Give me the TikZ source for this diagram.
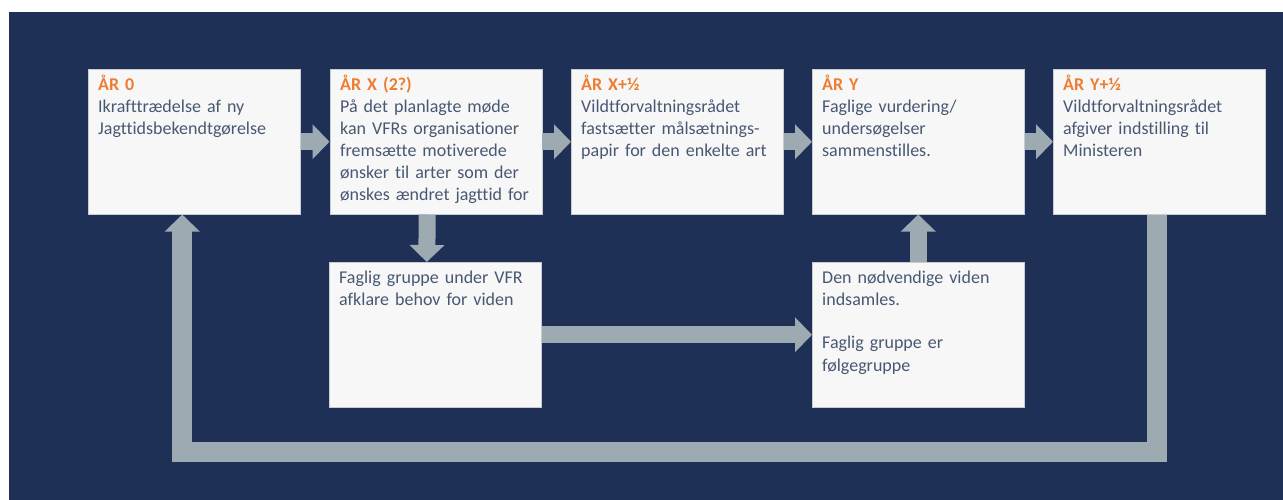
\documentclass[tikz,border=0pt]{standalone}
\usepackage{fontspec}
\setmainfont[Ligatures=NoCommon]{Carlito}
\usetikzlibrary{arrows.meta}
\definecolor{navy}{RGB}{31,48,87}
\definecolor{boxfill}{RGB}{247,247,247}
\definecolor{boxline}{RGB}{200,204,210}
\definecolor{arrowgray}{RGB}{157,170,177}
\definecolor{bodytext}{RGB}{72,88,115}
\definecolor{titleorange}{RGB}{237,125,49}
\newcommand{\ttl}[1]{{\color{titleorange}\bfseries #1}}
\tikzset{
  stepbox/.style={draw=boxline, line width=0.5pt, fill=boxfill, inner sep=0pt,
    minimum width=212pt, minimum height=145pt, anchor=north west},
  txt/.style={anchor=base west, inner sep=0pt, text width=205pt, align=left,
    text=bodytext, font=\fontsize{18}{22}\selectfont},
  barrow/.style={draw=arrowgray, line width=17pt,
    -{Triangle[width=34pt,length=17pt]}},
  fbarrow/.style={draw=arrowgray, line width=20pt, line join=miter,
    -{Triangle[width=34pt,length=17pt]}}
}
\begin{document}
\begin{tikzpicture}[x=1pt,y=-1pt]
\useasboundingbox (0,0) rectangle (1283,500);
\fill[navy] (9,12) rectangle (1283,500);
% top row
\node[stepbox] (A) at (88,69) {};
\node[stepbox] (B) at (329.5,69) {};
\node[stepbox] (C) at (571,69) {};
\node[stepbox] (D) at (812,69) {};
\node[stepbox] (E) at (1053,69) {};
% bottom row
\node[stepbox] (F) at (329,262) {};
\node[stepbox] (G) at (812,262) {};
% texts
\node[txt] (At) at (98,91) {\ttl{ÅR 0}\\Ikrafttrædelse af ny\\Jagttidsbekendtgørelse};
\node[txt] (Bt) at (340,91) {\ttl{ÅR X (2?)}\\På det planlagte møde\\kan VFRs organisationer\\fremsætte motiverede\\ønsker til arter som der\\ønskes ændret jagttid for};
\node[txt] (Ct) at (581,91) {\ttl{ÅR X+½}\\Vildtforvaltningsrådet\\fastsætter målsætnings-\\papir for den enkelte art};
\node[txt] (Dt) at (822,91) {\ttl{ÅR Y}\\Faglige vurdering/\\undersøgelser\\sammenstilles.};
\node[txt] (Et) at (1063,91) {\ttl{ÅR Y+½}\\Vildtforvaltningsrådet\\afgiver indstilling til\\Ministeren};
\node[txt] (Ft) at (339,283) {Faglig gruppe under VFR\\afklare behov for viden};
\node[txt] (Gt) at (822,283) {Den nødvendige viden\\indsamles.\\[22pt]Faglig gruppe er\\følgegruppe};
% arrows
\draw[barrow] (A.east) -- (B.west);
\draw[barrow] (B.east) -- (C.west);
\draw[barrow] (C.east) -- (D.west);
\draw[barrow] (D.east) -- (E.west);
\draw[barrow] ([xshift=-8.5pt]B.south) -- ([xshift=-8.5pt]F.north);
\draw[barrow] (F.east) -- (G.west);
\draw[barrow] (G.north) -- (D.south);
\draw[fbarrow] ([xshift=-2.5pt]E.south) -- ++(0,237.5) -| ([xshift=-12pt]A.south);
\end{tikzpicture}
\end{document}
